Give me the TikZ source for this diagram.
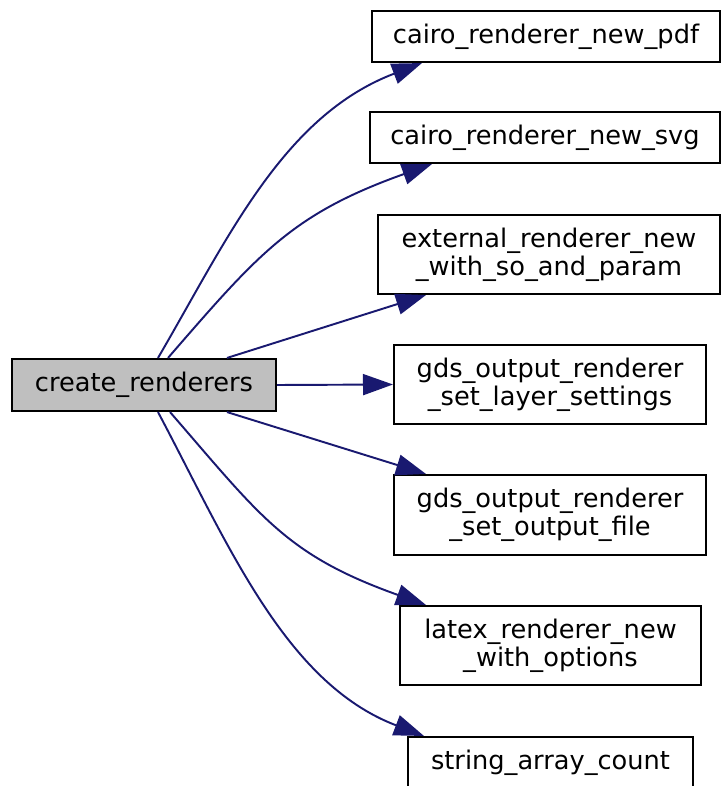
\documentclass[tikz,border=0pt]{standalone}
\usepackage{fontspec}
\setmainfont{DejaVu Sans}
\usepackage{tikz}
\usetikzlibrary{arrows.meta}

\definecolor{edgeblue}{HTML}{191970}
\definecolor{callgray}{HTML}{BFBFBF}

\begin{document}
\begin{tikzpicture}[x=0.02cm,y=-0.02cm,
		fn/.style={draw=black,line width=1.2pt,fill=white,rectangle,inner sep=0pt,align=center,
			font=\fontsize{14.6}{16}\selectfont},
		call/.style={draw=edgeblue,line width=1.1pt,-{Triangle[length=0.6cm,width=0.42cm]}}]
				
				\useasboundingbox (0,0) rectangle (721,786);
				
				% Caller (grey box).
				\node[fn,fill=callgray,minimum width=5.28cm,minimum height=1.04cm] (create) at (144,385) {create\_renderers};
				
				% Callees, top to bottom.
				\node[fn,minimum width=6.96cm,minimum height=1.02cm] (pdf) at (546,36.5) {cairo\_renderer\_new\_pdf};
				\node[fn,minimum width=7.00cm,minimum height=1.02cm] (svg) at (545,137.5) {cairo\_renderer\_new\_svg};
				\node[fn,minimum width=6.84cm,minimum height=1.58cm] (ext) at (549,254.5) {external\_renderer\_new\\\_with\_so\_and\_param};
				\node[fn,minimum width=6.24cm,minimum height=1.58cm] (layer) at (550,384.5) {gds\_output\_renderer\\\_set\_layer\_settings};
				\node[fn,minimum width=6.24cm,minimum height=1.60cm] (outfile) at (550,515) {gds\_output\_renderer\\\_set\_output\_file};
				\node[fn,minimum width=6.02cm,minimum height=1.58cm] (latex) at (550.5,645.5) {latex\_renderer\_new\\\_with\_options};
				\node[fn,minimum width=5.70cm,minimum height=1.02cm] (strcount) at (550.5,762.5) {string\_array\_count};
				
				% Calls going up.
				\draw[call] ([xshift=0.28cm]create.north) .. controls (228,238) and (283,116) .. ([xshift=1.02cm]pdf.south west);
				\draw[call] ([xshift=0.48cm]create.north) .. controls (259,253) and (292,214) .. ([xshift=1.26cm]svg.south west);
				\draw[call] ([xshift=1.66cm]create.north) -- ([xshift=0.98cm]ext.south west);
				
				% Straight across.
				\draw[call] (create.east) -- (layer.west);
				
				% Calls going down.
				\draw[call] ([xshift=1.66cm]create.south) -- ([xshift=0.66cm]outfile.north west);
				\draw[call] ([xshift=0.52cm]create.south) .. controls (261,517) and (286,555) .. ([xshift=0.54cm]latex.north west);
				\draw[call] ([xshift=0.28cm]create.south) .. controls (228,544) and (285,683) .. ([xshift=0.34cm]strcount.north west);
				
\end{tikzpicture}
\end{document}
